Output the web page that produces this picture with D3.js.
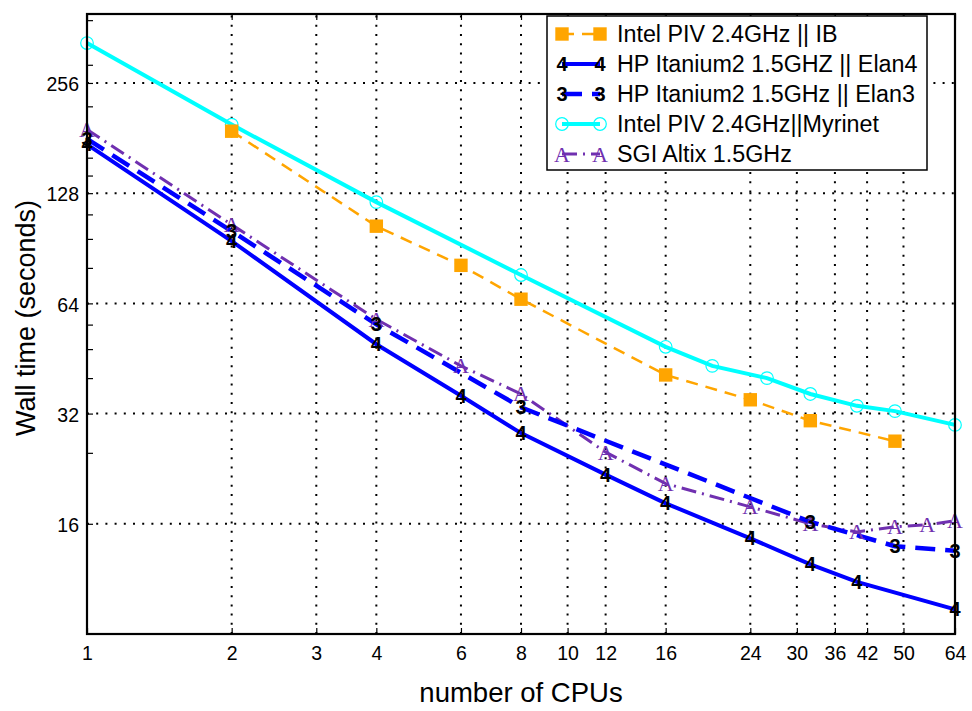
<!DOCTYPE html>
<html><head><meta charset="utf-8">
<script src="https://cdn.jsdelivr.net/npm/d3@7"></script>
<style>body{margin:0;background:#fff}</style>
</head><body>
<svg id="c" width="972" height="711"></svg>
<script>
// ---- data ----
const xTicks = [1,2,3,4,6,8,10,12,16,24,30,36,42,50,64];
const yTicks = [16,32,64,128,256];
const yMinor = [380,287,221,160,143,112,96,80,56,48,40,25];

const ibX = [2,4,6,8,16,24,32,48];
const ibY = [189,104,81.3,65.7,40.8,34.9,30.6,26.9];

const elan4X = [1,2,4,6,8,12,16,24,32,40,64];
const elan4Y = [174,94.7,49.5,35.8,28.3,21.8,18.2,14.6,12.4,11.1,9.34];

const elan3X = [1,2,4,8,32,48,64];
const elan3Y = [180,100.8,56.1,33.3,16.2,13.9,13.5];

const myriX = [1,2,4,8,16,20,26,32,40,48,64];
const myriY = [329,197,121,76.5,48.7,43.2,40.0,36.2,33.6,32.5,29.8];

const sgiX = [1,2,4,6,8,12,16,24,32,40,48,56,64];
const sgiY = [191,105,57.9,43.2,36.2,25.1,20.6,17.8,16.0,15.2,15.7,15.9,16.3];

const legendLabels = ["Intel PIV 2.4GHz || IB","HP Itanium2 1.5GHZ || Elan4","HP Itanium2 1.5GHz || Elan3","Intel PIV 2.4GHz||Myrinet","SGI Altix 1.5GHz"];

// ---- chart ----
const svg = d3.select("#c");
const L=87,R=955,T=14,B=634;
const x = d3.scaleLog().base(2).domain([1,64]).range([L,R]);
const y = d3.scaleLog().base(2).domain([8,395]).range([B,T]);
const font = "'Liberation Sans', Arial, Helvetica, sans-serif";

// grid
const g = svg.append("g");
g.selectAll(".vg").data(xTicks.slice(1,-1)).join("line")
  .attr("x1",d=>x(d)).attr("x2",d=>x(d)).attr("y1",B).attr("y2",T)
  .attr("stroke","#000").attr("stroke-width",2).attr("stroke-dasharray","2,7.2");
g.selectAll(".hg").data(yTicks).join("line")
  .attr("x1",L).attr("x2",R).attr("y1",d=>y(d)).attr("y2",d=>y(d))
  .attr("stroke","#000").attr("stroke-width",2).attr("stroke-dasharray","2,7.2");

// axes
const xb = d3.axisBottom(x).tickValues(xTicks).tickFormat(d3.format("d")).tickSizeInner(-6).tickSizeOuter(0).tickPadding(12);
const xa = svg.append("g").attr("transform",`translate(0,${B})`).call(xb);
const xt = d3.axisTop(x).tickValues(xTicks).tickFormat("").tickSizeInner(-6).tickSizeOuter(0);
svg.append("g").attr("transform",`translate(0,${T})`).call(xt);
const yl = d3.axisLeft(y).tickValues(yTicks).tickFormat(d3.format("d")).tickSizeInner(-6).tickSizeOuter(0).tickPadding(8);
const ya = svg.append("g").attr("transform",`translate(${L},0)`).call(yl);
const ym = d3.axisLeft(y).tickValues(yMinor).tickFormat("").tickSizeInner(-6).tickSizeOuter(0);
svg.append("g").attr("transform",`translate(${L},0)`).call(ym);
svg.selectAll(".domain").remove();
svg.selectAll(".tick line").attr("stroke","#000").attr("stroke-width",1.2);
svg.selectAll(".tick text").attr("font-family",font).attr("font-size",19.5).attr("fill","#000");
ya.selectAll(".tick text").attr("dy","0.4em");

// series
const line = d3.line().x(d=>x(d[0])).y(d=>y(d[1]));
const zip=(a,b)=>a.map((v,i)=>[v,b[i]]);
const series = [
  {x:myriX,y:myriY,color:"#00FFFF",w:4,dash:null,m:"circle"},
  {x:ibX,y:ibY,color:"#FFA500",w:2.5,dash:"12,8",m:"square"},
  {x:sgiX,y:sgiY,color:"#7030B0",w:3,dash:"15,6,2,6",m:"A"},
  {x:elan3X,y:elan3Y,color:"#0000FF",w:4.5,dash:"20,10",m:"3"},
  {x:elan4X,y:elan4Y,color:"#0000FF",w:4,dash:null,m:"4"}
];
series.forEach(s=>{
  svg.append("path").attr("d",line(zip(s.x,s.y))).attr("fill","none")
    .attr("stroke",s.color).attr("stroke-width",s.w).attr("stroke-dasharray",s.dash);
});
function marker(sel,type,color,cx,cy){
  if(type==="circle") sel.append("circle").attr("cx",cx).attr("cy",cy).attr("r",6.3).attr("fill","none").attr("stroke",color).attr("stroke-width",1.2);
  else if(type==="square") sel.append("rect").attr("x",cx-6.7).attr("y",cy-6.7).attr("width",13.4).attr("height",13.4).attr("fill",color);
  else if(type==="A") sel.append("text").attr("x",cx).attr("y",cy+7.5).attr("text-anchor","middle").attr("font-family","'Liberation Serif','Times New Roman',serif").attr("font-size",22).attr("fill",color).text("A");
  else sel.append("text").attr("x",cx).attr("y",cy+7).attr("text-anchor","middle").attr("font-family",font).attr("font-weight","bold").attr("font-size",20).attr("fill","#000").text(type);
}
series.forEach(s=>{
  const mg = svg.append("g");
  zip(s.x,s.y).forEach(p=>marker(mg,s.m,s.color,x(p[0]),y(p[1])));
});

// frame
svg.append("rect").attr("x",L).attr("y",T).attr("width",R-L).attr("height",B-T)
  .attr("fill","none").attr("stroke","#000").attr("stroke-width",2.2);

// titles
svg.append("text").attr("x",521).attr("y",702).attr("text-anchor","middle")
  .attr("font-family",font).attr("font-size",27.5).text("number of CPUs");
svg.append("text").attr("transform","translate(35,318) rotate(-90)").attr("text-anchor","middle")
  .attr("font-family",font).attr("font-size",27).text("Wall time (seconds)");

// legend
const lg = svg.append("g");
lg.append("rect").attr("x",547).attr("y",16).attr("width",380).attr("height",154)
  .attr("fill","#fff").attr("stroke","#000").attr("stroke-width",1.5);
const legOrder = [series[1],series[4],series[3],series[0],series[2]];
legOrder.forEach((s,i)=>{
  const cy = 34+i*30;
  lg.append("line").attr("x1",562).attr("x2",600).attr("y1",cy).attr("y2",cy)
    .attr("stroke",s.color).attr("stroke-width",s.w).attr("stroke-dasharray",s.dash);
  marker(lg,s.m,s.color,562,cy);
  marker(lg,s.m,s.color,600,cy);
  lg.append("text").attr("x",617).attr("y",cy+8).attr("font-family",font).attr("font-size",23.3).text(legendLabels[i]);
});
</script>
</body></html>
